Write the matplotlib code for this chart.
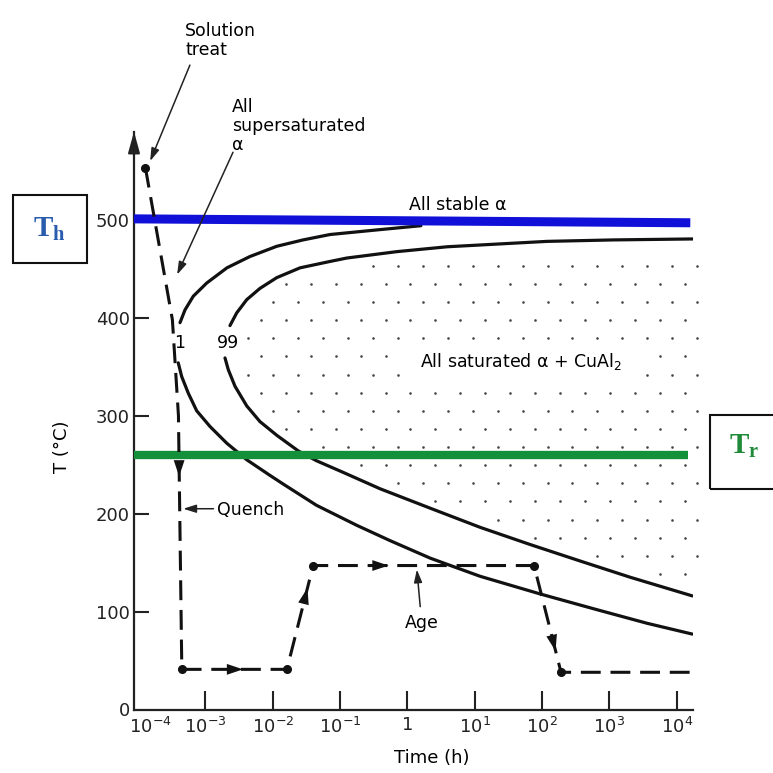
import numpy as np
import matplotlib
matplotlib.use("Agg")
import matplotlib.pyplot as plt
from matplotlib.patches import Rectangle
from matplotlib.transforms import ScaledTranslation

plt.rcParams['font.family'] = ['DejaVu Sans']

# ---------------- data (log10 of time in h, temperature in degC) ----------------
c1_upper_logt = [-3.377, -3.303, -3.18, -2.98, -2.68, -2.34, -1.94, -1.55, -1.15, -0.41, 0.20]
c1_upper_T    = [395, 408, 422, 435.5, 451, 462.5, 473, 479.5, 485, 490, 494]
c1_lower_logt = [-3.403, -3.352, -3.254, -3.129, -2.932, -2.684, -2.386, -2.04, -1.84,
                 -1.35, -0.75, -0.26, 0.34, 1.08, 1.97, 2.81, 3.56, 4.23]
c1_lower_T    = [354, 340, 323, 305, 289, 272, 255, 239, 230,
                 208.5, 188, 172.5, 154.5, 136, 118, 102, 88, 77]
c99_upper_logt = [-2.635, -2.535, -2.386, -2.19, -1.94, -1.594, -1.15, -0.90, -0.16,
                  0.59, 2.07, 3.06, 4.25]
c99_upper_T    = [392, 405, 418.5, 430, 441, 451, 457.5, 461, 467.5,
                  472.5, 478, 479.5, 480.5]
c99_lower_logt = [-2.709, -2.66, -2.56, -2.386, -2.19, -1.94, -1.62, -1.35, -0.95,
                  -0.41, 0.34, 1.08, 1.82, 2.57, 3.31, 4.23]
c99_lower_T    = [359, 347, 330, 310, 294, 280, 264, 254, 242,
                  225.5, 205.5, 186, 168.5, 151.5, 135, 116]

# heat-treatment path (solution treat -> quench -> age)
path_logt = [-3.89, -3.49, -3.40, -3.35, -1.79, -1.40, 1.88, 2.28, 4.23]
path_T    = [553, 398, 300, 41, 41, 147, 147, 38, 38]
dot_logt  = [-3.89, -3.35, -1.79, -1.40, 1.88, 2.28]
dot_T     = [553, 41, 41, 147, 147, 38]
# direction arrows on path: (tail logt, tail T, tip logt, tip T)
path_arrows = [(-3.39, 258, -3.39, 238),
               (-2.56, 41, -2.44, 41),
               (-1.525, 113, -1.484, 124),
               (-0.40, 147, -0.28, 147),
               (2.160, 70.7, 2.199, 59.8)]

Th_logt = [-4.06, 4.20]
Th_T = [501, 497]
Tr_logt = [-4.06, 4.17]
Tr_T = [259.5, 259.5]

xtick_exp = [-4, -3, -2, -1, 0, 1, 2, 3, 4]
xtick_labels = [r'$10^{-4}$', r'$10^{-3}$', r'$10^{-2}$', r'$10^{-1}$', '1',
                r'$10^{1}$', r'$10^{2}$', r'$10^{3}$', r'$10^{4}$']
ytick_vals = [0, 100, 200, 300, 400, 500]


def t(v):
    return 10.0 ** np.asarray(v, dtype=float)


W = H = 773
fig = plt.figure(figsize=(7.73, 7.73), dpi=100)
fig.patch.set_facecolor('white')
ax = fig.add_axes([134 / W, 1 - 709.5 / H, (693 - 134) / W, (709.5 - 131.7) / H])
ax.set_xscale('log')
ax.set_xlim(10 ** -4.06, 10 ** 4.24)
ax.set_ylim(0, 590)
ax.set_facecolor('none')

for s in ('top', 'right'):
    ax.spines[s].set_visible(False)
for s in ('left', 'bottom'):
    ax.spines[s].set_linewidth(1.6)
    ax.spines[s].set_color('#222222')
ax.annotate('', xy=(0, 1.0), xytext=(0, 0.96), xycoords='axes fraction',
            arrowprops=dict(arrowstyle='-|>,head_length=0.9,head_width=0.25',
                            color='#222222', lw=1.6, mutation_scale=14,
                            shrinkA=0, shrinkB=0),
            annotation_clip=False)

ax.xaxis.set_minor_locator(matplotlib.ticker.NullLocator())
ax.set_xticks(t(xtick_exp))
ax.set_xticklabels(xtick_labels)
ax.set_yticks(ytick_vals)
ax.set_yticklabels([str(v) for v in ytick_vals])
ax.tick_params(axis='x', direction='in', length=14, width=1.5, pad=5,
               labelsize=13, colors='#222222')
ax.tick_params(axis='y', direction='in', length=11, width=1.5, pad=3,
               labelsize=13, colors='#222222')
ax.xaxis.get_major_ticks()[0].tick1line.set_visible(False)
ax.yaxis.get_major_ticks()[0].tick1line.set_visible(False)
lab0 = ax.get_xticklabels()[0]
lab0.set_transform(lab0.get_transform() + ScaledTranslation(9 / 72, 0, fig.dpi_scale_trans))

ax.set_xlabel('Time (h)', fontsize=13)
ax.xaxis.set_label_coords(0.533, -0.068)
ax.set_ylabel('T (°C)', fontsize=13)
ax.yaxis.set_label_coords(-0.113, 0.454)

# stipple texture inside the 99 % curve
rows_T = np.arange(120, 475, 18.5)
pts_l, pts_T = [], []
for k, Tv in enumerate(rows_T):
    start = -2.36 + (k % 2) * 0.185
    for lv in np.arange(start, 4.32, 0.37):
        up = np.interp(lv, c99_upper_logt, c99_upper_T)
        lo = np.interp(lv, c99_lower_logt, c99_lower_T)
        if Tv < up - 9 and Tv > lo + 8:
            if -0.1 < lv < 3.45 and 340 < Tv < 372:
                continue
            pts_l.append(lv)
            pts_T.append(Tv)
ax.scatter(t(pts_l), pts_T, s=3.5, color='#444444', linewidths=0, zorder=1,
           clip_on=False)

lw_c = 2.3
for xs, ys in ((c1_upper_logt, c1_upper_T), (c1_lower_logt, c1_lower_T),
               (c99_upper_logt, c99_upper_T), (c99_lower_logt, c99_lower_T)):
    ax.plot(t(xs), ys, color='#111111', lw=lw_c, zorder=2,
            solid_capstyle='round', solid_joinstyle='round')

ax.plot(t(Th_logt), Th_T, color='#1010d8', lw=6.5, zorder=3, solid_capstyle='butt')
ax.plot(t(Tr_logt), Tr_T, color='#15903a', lw=6.0, zorder=3, solid_capstyle='butt')

ax.plot(t(path_logt), path_T, color='#111111', lw=2.2, linestyle=(0, (6.5, 3.2)),
        zorder=5, clip_on=False)
ax.plot(t(dot_logt), dot_T, 'o', ms=5.5, color='#111111', zorder=6, clip_on=False)
for tl, tT, hl, hT in path_arrows:
    ax.annotate('', xy=(t(hl), hT), xytext=(t(tl), tT),
                arrowprops=dict(arrowstyle='-|>,head_length=0.9,head_width=0.3',
                                color='#111111', lw=0, mutation_scale=13,
                                shrinkA=0, shrinkB=0), zorder=7)

fs = 12.5
arrow_thin = dict(arrowstyle='-|>,head_length=0.7,head_width=0.22', color='#222222',
                  lw=1.1, mutation_scale=11, shrinkA=0, shrinkB=0)
ax.text(t(-3.30), 702, 'Solution\ntreat', fontsize=fs, ha='left', va='top',
        linespacing=1.05, clip_on=False)
ax.annotate('', xy=(t(-3.82), 560), xytext=(t(-3.23), 658),
            arrowprops=arrow_thin, annotation_clip=False)
ax.text(t(-2.61), 624, 'All\nsupersaturated\nα', fontsize=fs, ha='left', va='top',
        linespacing=1.05, clip_on=False)
ax.annotate('', xy=(t(-3.42), 444), xytext=(t(-2.59), 569),
            arrowprops=arrow_thin, annotation_clip=False)
ax.text(t(-3.377), 374, '1', fontsize=fs, ha='center', va='center')
ax.text(t(-2.66), 374, '99', fontsize=fs, ha='center', va='center')
ax.text(t(0.74), 515, 'All stable α', fontsize=fs, ha='center', va='center')
ax.text(t(1.68), 355, r'All saturated α + CuAl$_\mathregular{2}$', fontsize=fs,
        ha='center', va='center')
ax.text(t(-2.83), 204, 'Quench', fontsize=fs, ha='left', va='center')
ax.annotate('', xy=(t(-3.33), 205), xytext=(t(-2.88), 205), arrowprops=arrow_thin)
ax.text(t(0.21), 88, 'Age', fontsize=fs, ha='center', va='center')
ax.annotate('', xy=(t(0.14), 143), xytext=(t(0.19), 105), arrowprops=arrow_thin)

# labelled boxes for T_h and T_r
fig.add_artist(Rectangle((12.7 / W, 1 - 263 / H), 74 / W, 68 / H,
                         transform=fig.transFigure, fill=False, lw=1.5, ec='#111111'))
fig.text(49.7 / W, 1 - 229 / H, r'T$_\mathregular{h}$', fontsize=21, fontweight='bold',
         family='Liberation Serif', color='#2a5cae', ha='center', va='center')
fig.add_artist(Rectangle((710 / W, 1 - 489.3 / H), 70 / W, 74.3 / H,
                         transform=fig.transFigure, fill=False, lw=1.5, ec='#111111'))
fig.text(744 / W, 1 - 446 / H, r'T$_\mathregular{r}$', fontsize=21, fontweight='bold',
         family='Liberation Serif', color='#1f8a3a', ha='center', va='center')

fig.savefig('out.png', dpi=100)
